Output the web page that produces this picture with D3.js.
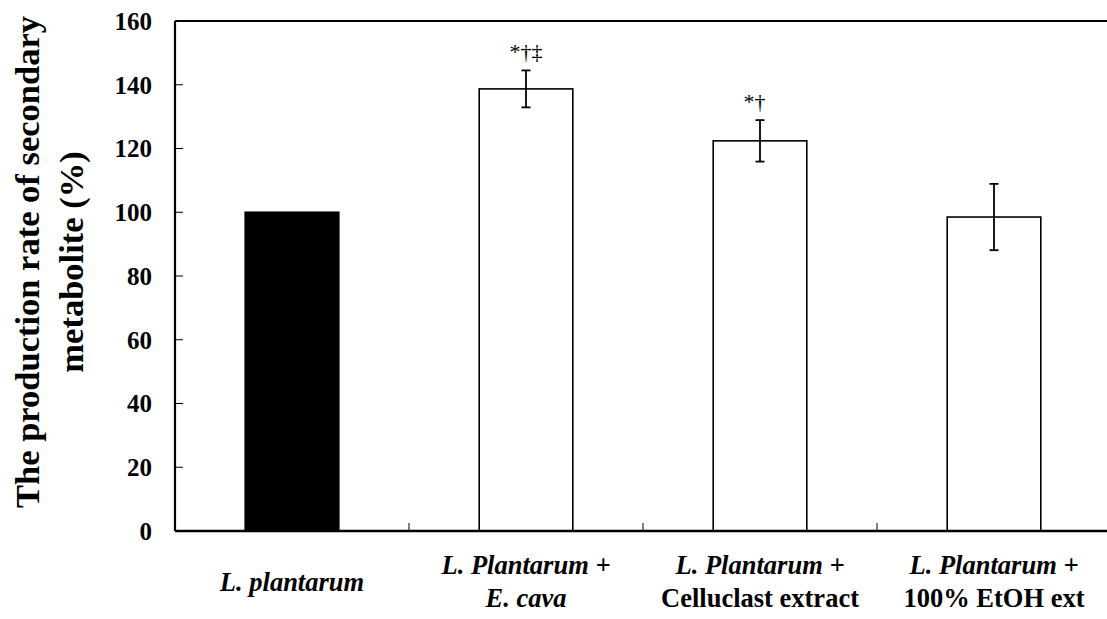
<!DOCTYPE html>
<html lang="en">
<head>
<meta charset="UTF-8">
<title>Secondary metabolite production</title>
<style>
  body { margin: 0; background: #fff; }
</style>
</head>
<body>
<div id="chart"></div>
<script src="https://cdnjs.cloudflare.com/ajax/libs/d3/7.8.5/d3.min.js"></script>
<script>
// data
var categories = ["L. plantarum", "L. Plantarum + E. cava", "L. Plantarum + Celluclast extract", "L. Plantarum + 100% EtOH ext"];
var values = [100, 138.7, 122.4, 98.5];
var errors = [0, 5.8, 6.5, 10.4];
var marks = ["", "*\u2020\u2021", "*\u2020", ""];
var fills = ["#000", "#fff", "#fff", "#fff"];
var yTicks = [0, 20, 40, 60, 80, 100, 120, 140, 160];
// label lines: [text, italic]
var labelLines = [
    [[["L. plantarum", true]]],
    [[["L. Plantarum +", true]], [["E. cava", true]]],
    [[["L. Plantarum +", true]], [["Celluclast extract", false]]],
    [[["L. Plantarum +", true]], [["100% EtOH ext", false]]]
];
var yTitle = ["The production rate of secondary", "metabolite (%)"];

var width = 1107, height = 619;
var margin = {l: 175, t: 21, r: -4, b: 88};
var serif = "'Liberation Serif', 'Times New Roman', Times, Tinos, 'Nimbus Roman', 'DejaVu Serif', serif";

var svg = d3.select("#chart").append("svg")
    .attr("width", width).attr("height", height)
    .attr("font-family", serif);

var x = d3.scaleBand().domain(categories)
    .range([margin.l, width - margin.r])
    .paddingInner(0.6).paddingOuter(0.3);
var y = d3.scaleLinear().domain([0, 160]).range([height - margin.b, margin.t]);

var step = x.step();
var x0 = margin.l, x1 = width - margin.r;

// bars
svg.selectAll("rect.bar").data(categories).enter().append("rect")
    .attr("class", "bar")
    .attr("x", function(d) { return x(d); })
    .attr("width", x.bandwidth())
    .attr("y", function(d, i) { return y(values[i]); })
    .attr("height", function(d, i) { return y(0) - y(values[i]); })
    .attr("fill", function(d, i) { return fills[i]; })
    .attr("stroke", "#000").attr("stroke-width", 1.6);

// error bars
var eb = svg.selectAll("g.err").data(categories.filter(function(d, i) { return errors[i] > 0; }))
    .enter().append("g").attr("class", "err");
eb.each(function(d) {
    var i = categories.indexOf(d);
    var cx = x(d) + x.bandwidth() / 2;
    var g = d3.select(this);
    g.append("line").attr("x1", cx).attr("x2", cx)
        .attr("y1", y(values[i] + errors[i])).attr("y2", y(values[i] - errors[i]));
    [values[i] + errors[i], values[i] - errors[i]].forEach(function(v) {
        g.append("line").attr("x1", cx - 4.5).attr("x2", cx + 4.5)
            .attr("y1", y(v)).attr("y2", y(v));
    });
    g.selectAll("line").attr("stroke", "#000").attr("stroke-width", 1.8);
    if (marks[i]) {
        g.append("text").attr("x", cx - 16.5).attr("y", y(values[i] + errors[i]) - 11)
            .attr("font-size", 22).attr("fill", "#000").text(marks[i]);
    }
});

// axes
svg.append("line").attr("x1", x0).attr("x2", x0).attr("y1", y(160)).attr("y2", y(0))
    .attr("stroke", "#000").attr("stroke-width", 2.2);
svg.append("line").attr("x1", x0).attr("x2", x1).attr("y1", y(160)).attr("y2", y(160))
    .attr("stroke", "#000").attr("stroke-width", 2.2);
svg.append("line").attr("x1", x0).attr("x2", x1).attr("y1", y(0)).attr("y2", y(0))
    .attr("stroke", "#000").attr("stroke-width", 2.6);

// y ticks (inward) and labels
svg.selectAll("line.ytick").data(yTicks).enter().append("line")
    .attr("x1", x0).attr("x2", x0 + 8)
    .attr("y1", function(d) { return y(d); }).attr("y2", function(d) { return y(d); })
    .attr("stroke", "#000").attr("stroke-width", 1);
svg.selectAll("text.ylab").data(yTicks).enter().append("text")
    .attr("x", 152).attr("y", function(d) { return y(d); }).attr("dy", "0.35em")
    .attr("text-anchor", "end").attr("font-size", 25).attr("font-weight", "bold")
    .text(function(d) { return d; });

// x ticks at category boundaries
svg.selectAll("line.xtick").data(categories.slice(1)).enter().append("line")
    .attr("x1", function(d) { return x(d) - step * 0.3; })
    .attr("x2", function(d) { return x(d) - step * 0.3; })
    .attr("y1", y(0)).attr("y2", y(0) - 8)
    .attr("stroke", "#000").attr("stroke-width", 1);

// x labels
categories.forEach(function(c, i) {
    var cx = x(c) + x.bandwidth() / 2;
    var lines = labelLines[i];
    var base = lines.length === 1 ? [591] : [574, 607];
    lines.forEach(function(segs, j) {
        var t = svg.append("text").attr("x", cx).attr("y", base[j])
            .attr("text-anchor", "middle").attr("font-size", 26.5).attr("font-weight", "bold");
        segs.forEach(function(s) {
            t.append("tspan").attr("font-style", s[1] ? "italic" : "normal").text(s[0]);
        });
    });
});

// y title
[39, 83].forEach(function(bx, j) {
    svg.append("text").attr("transform", "translate(" + bx + "," + 262 + ") rotate(-90)")
        .attr("text-anchor", "middle").attr("font-size", 34.5).attr("font-weight", "bold")
        .text(yTitle[j]);
});
</script>
</body>
</html>
